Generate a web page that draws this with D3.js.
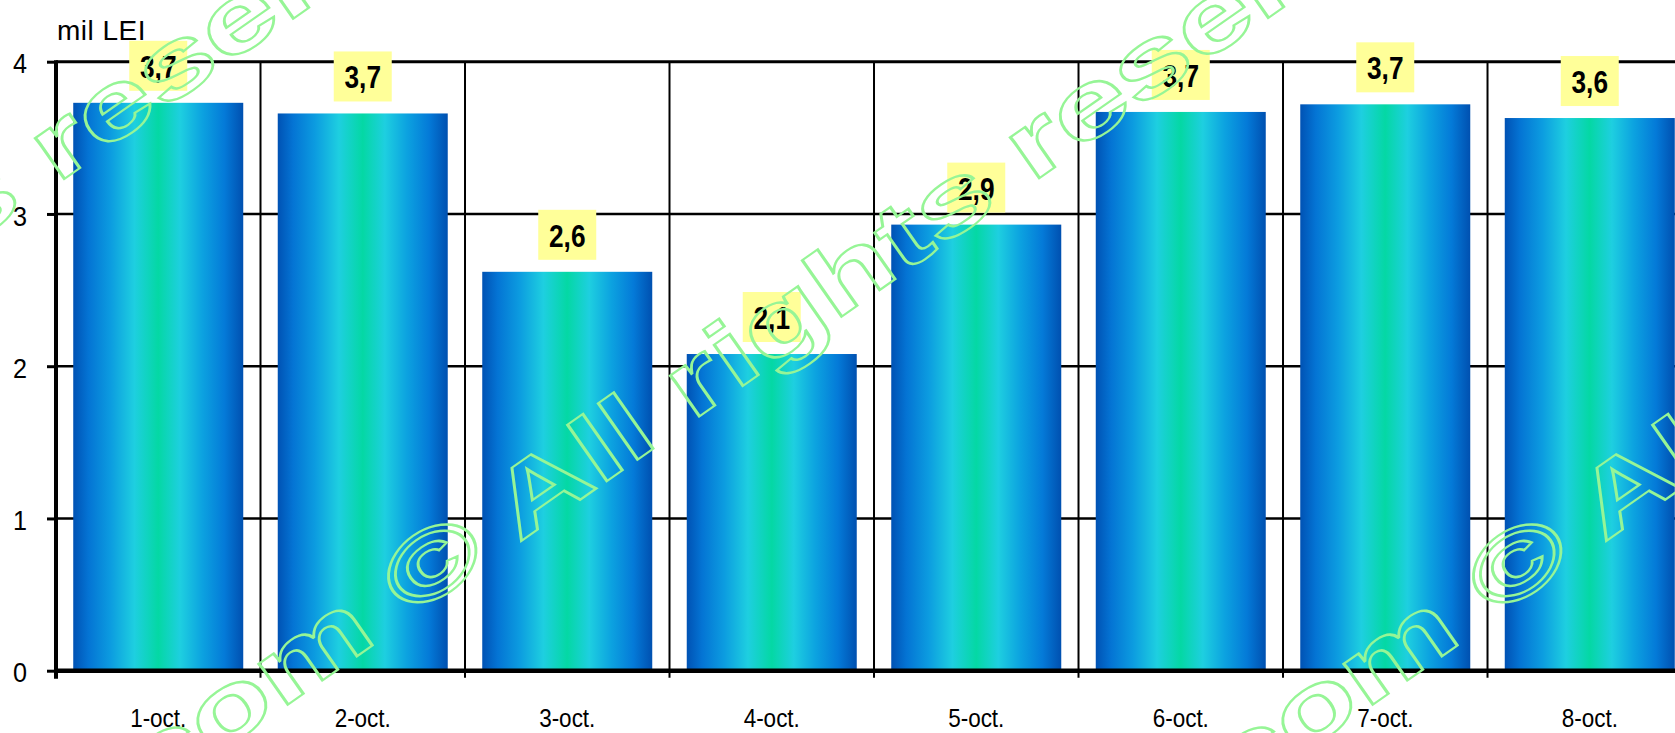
<!DOCTYPE html>
<html>
<head>
<meta charset="utf-8">
<script src="https://cdnjs.cloudflare.com/ajax/libs/d3/7.8.5/d3.min.js"></script>
<style>
  html, body { margin: 0; padding: 0; background: #fff; }
  svg { display: block; }
</style>
</head>
<body>
<svg id="chart" width="1675" height="733"></svg>
<script>
// ---- data ----
const categories = ["1-oct.", "2-oct.", "3-oct.", "4-oct.", "5-oct.", "6-oct.", "7-oct.", "8-oct."];
const values = [3.73, 3.66, 2.62, 2.08, 2.93, 3.67, 3.72, 3.63];
const yTicks = [0, 1, 2, 3, 4];
const unitLabel = "mil LEI";
const watermarkText = "www.com © All rights reserved";

// ---- layout ----
const plot = { left: 56, top: 61.7, bottom: 670.7, right: 56 + 8 * 204.5 };
const sans = "'Liberation Sans', Arial, Helvetica, sans-serif";

const svg = d3.select("#chart");

const x = d3.scaleBand()
  .domain(categories)
  .range([plot.left, plot.right])
  .paddingInner(0.1687)
  .paddingOuter(0.0843);

const y = d3.scaleLinear().domain([0, 4]).range([plot.bottom, plot.top]);

// gradient
const defs = svg.append("defs");
const grad = defs.append("linearGradient").attr("id", "barGrad")
  .attr("x1", "0%").attr("x2", "100%").attr("y1", "0%").attr("y2", "0%");
[
  [0, "#0052b4"], [0.09, "#0474d4"], [0.22, "#0c9ce0"], [0.36, "#1ecfe0"],
  [0.5, "#04d8a4"], [0.63, "#1ecfe0"], [0.76, "#0ca2e0"], [0.89, "#047ad8"], [1, "#0050b0"]
].forEach(([o, c]) => grad.append("stop").attr("offset", o).attr("stop-color", c));

// horizontal gridlines
svg.append("g").selectAll("line").data(yTicks.filter(t => t > 0)).join("line")
  .attr("x1", plot.left).attr("x2", plot.right)
  .attr("y1", d => y(d)).attr("y2", d => y(d))
  .attr("stroke", "#000").attr("stroke-width", d => d === 4 ? 3 : 2.5);

// vertical gridlines at category boundaries
const boundaries = d3.range(1, categories.length + 1).map(i => x.range()[0] + i * x.step());
svg.append("g").selectAll("line").data(boundaries).join("line")
  .attr("x1", d => d).attr("x2", d => d)
  .attr("y1", plot.top).attr("y2", plot.bottom + 7)
  .attr("stroke", "#000").attr("stroke-width", 2);

// bars
svg.append("g").selectAll("rect").data(values).join("rect")
  .attr("x", (d, i) => x(categories[i]))
  .attr("width", x.bandwidth())
  .attr("y", d => y(d))
  .attr("height", d => y(0) - y(d))
  .attr("fill", "url(#barGrad)");

// axes lines
svg.append("line").attr("x1", plot.left).attr("x2", plot.left)
  .attr("y1", plot.top - 1.5).attr("y2", plot.bottom + 8)
  .attr("stroke", "#000").attr("stroke-width", 4);
svg.append("line").attr("x1", plot.left - 2).attr("x2", plot.right)
  .attr("y1", plot.bottom).attr("y2", plot.bottom)
  .attr("stroke", "#000").attr("stroke-width", 4.5);

// y axis ticks + labels
const ySx = 0.9;
const yAxis = svg.append("g").attr("transform", `translate(${plot.left},0)`)
  .call(d3.axisLeft(y).tickValues(yTicks).tickSize(9).tickPadding(20).tickFormat(d3.format("d")));
yAxis.select(".domain").remove();
yAxis.selectAll(".tick line").attr("stroke", "#000").attr("stroke-width", 3);
yAxis.selectAll(".tick text")
  .attr("font-family", sans).attr("font-size", 28).attr("fill", "#000").attr("dy", "0.4em")
  .attr("x", -29 / ySx).attr("transform", `scale(${ySx},1)`);

// x axis labels
const xSx = 0.9;
const xAxis = svg.append("g").attr("transform", `translate(0,${plot.bottom})`)
  .call(d3.axisBottom(x).tickSize(0).tickPadding(39));
xAxis.select(".domain").remove();
xAxis.selectAll(".tick text")
  .attr("font-family", sans).attr("font-size", 25).attr("fill", "#000")
  .attr("transform", `scale(${xSx},1)`);

// unit label
svg.append("text").attr("x", 57).attr("y", 40)
  .attr("font-family", sans).attr("font-size", 28).attr("letter-spacing", 0.5)
  .attr("fill", "#000").text(unitLabel);

// value labels
const fmt = v => d3.format(".1f")(v).replace(".", ",");
const lbl = svg.append("g").selectAll("g").data(values).join("g")
  .attr("transform", (d, i) => `translate(${x(categories[i]) + x.bandwidth() / 2},${y(d) - 12})`);
lbl.append("rect").attr("x", -29).attr("y", -50).attr("width", 58).attr("height", 50).attr("fill", "#ffff99");
lbl.append("text").attr("text-anchor", "middle").attr("y", -13)
  .attr("transform", "scale(0.82,1)")
  .attr("font-family", sans).attr("font-weight", "bold").attr("font-size", 32)
  .attr("fill", "#000").text(d => fmt(d));

// watermark
const wm = svg.append("g").attr("pointer-events", "none");
const angle = -35, wmSx = 1.43, wmSize = 95;
function placeWatermark(charIndex, tx, ty, upEm) {
  const t = wm.append("text")
    .attr("font-family", sans)
    .attr("font-weight", "bold").attr("font-size", wmSize)
    .attr("fill", "none").attr("stroke", "#96f596").attr("stroke-width", 2.2)
    .text(watermarkText);
  const ext = t.node().getExtentOfChar(charIndex);
  const cx = (ext.x + ext.width / 2) * wmSx, cy = -upEm * wmSize;
  const a = angle * Math.PI / 180;
  const rx = cx * Math.cos(a) - cy * Math.sin(a);
  const ry = cx * Math.sin(a) + cy * Math.cos(a);
  t.attr("transform", `translate(${tx - rx},${ty - ry}) rotate(${angle}) scale(${wmSx},1)`);
}
const iCopy = watermarkText.indexOf("©");
const iRes = watermarkText.indexOf("reserved");
placeWatermark(iCopy, 432, 563, 0.35);
placeWatermark(iCopy, 1517, 563, 0.35);
placeWatermark(iRes + 1, 117, 112, 0.26);
</script>
</body>
</html>
